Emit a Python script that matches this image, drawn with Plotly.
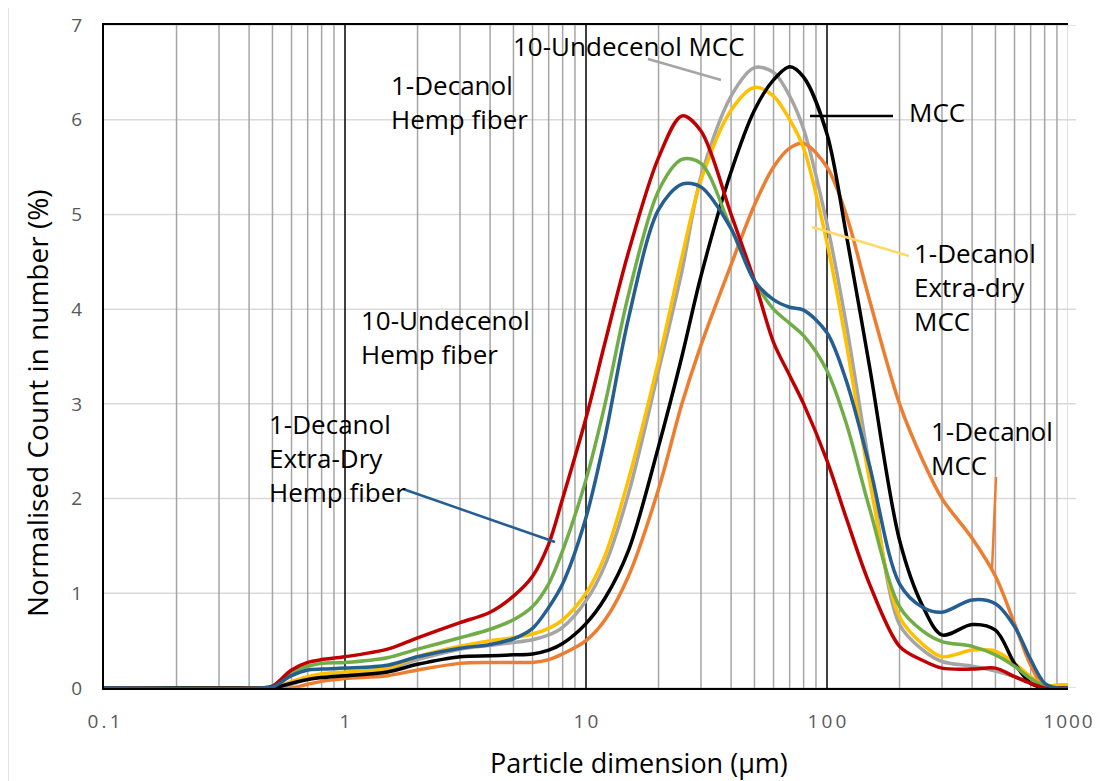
import plotly.graph_objects as go

# ---------------- data ----------------
sizes_um = [0.1, 0.45, 0.5, 0.6, 0.7, 0.8, 1, 1.5, 2, 3, 4, 5, 6, 7, 8,
            10, 12, 15, 20, 25, 30, 40, 50, 60, 70, 80,
            100, 120, 150, 200, 250, 300, 400, 500, 600, 700, 800, 900, 1000]

decanol_hemp = [0, 0, 0.02, 0.19, 0.27, 0.30, 0.33, 0.41, 0.53, 0.69, 0.80, 0.97, 1.18, 1.52, 2.0,
                2.85, 3.65, 4.6, 5.6, 6.04, 5.88, 5.0, 4.3, 3.65, 3.3, 3.0,
                2.4, 1.8, 1.1, 0.44, 0.29, 0.21, 0.20, 0.21, 0.12, 0.05, 0.0, 0, 0]
undecenol_hemp = [0, 0, 0.02, 0.16, 0.23, 0.26, 0.27, 0.32, 0.41, 0.53, 0.62, 0.72, 0.86, 1.1, 1.45,
                  2.2, 3.0, 4.15, 5.25, 5.58, 5.54, 4.85, 4.3, 4.0, 3.85, 3.72,
                  3.35, 2.8, 1.9, 0.86, 0.6, 0.49, 0.44, 0.35, 0.23, 0.1, 0.02, 0, 0]
decanol_xdry_hemp = [0, 0, 0.01, 0.13, 0.19, 0.20, 0.21, 0.24, 0.33, 0.42, 0.46, 0.52, 0.63, 0.85, 1.1,
                     1.8, 2.65, 3.9, 5.05, 5.32, 5.29, 4.85, 4.3, 4.1, 4.02, 3.99,
                     3.75, 3.25, 2.35, 1.1, 0.85, 0.8, 0.93, 0.89, 0.65, 0.3, 0.05, 0, 0]
decanol_xdry_mcc = [0, 0, 0, 0.07, 0.12, 0.15, 0.17, 0.21, 0.33, 0.44, 0.50, 0.53, 0.57, 0.63, 0.72,
                    1.0, 1.4, 2.2, 3.45, 4.55, 5.36, 6.1, 6.34, 6.25, 6.0, 5.7,
                    4.7, 3.65, 2.2, 0.75, 0.46, 0.33, 0.40, 0.39, 0.26, 0.12, 0.02, 0.03, 0.03]
undecenol_mcc = [0, 0, 0, 0.04, 0.10, 0.13, 0.15, 0.20, 0.30, 0.41, 0.45, 0.48, 0.51, 0.56, 0.64,
                 0.92, 1.3, 2.05, 3.35, 4.4, 5.4, 6.25, 6.55, 6.5, 6.25, 5.9,
                 4.9, 3.85, 2.35, 0.67, 0.4, 0.28, 0.23, 0.18, 0.12, 0.05, 0.02, 0.03, 0.03]
mcc = [0, 0, 0, 0.05, 0.09, 0.11, 0.13, 0.17, 0.25, 0.33, 0.34, 0.35, 0.36, 0.40, 0.47,
       0.68, 0.95, 1.45, 2.55, 3.5, 4.35, 5.45, 6.1, 6.42, 6.56, 6.45,
       5.85, 4.8, 3.4, 1.56, 0.86, 0.56, 0.67, 0.61, 0.26, 0.05, 0, 0, 0]
decanol_mcc = [0, 0, 0, 0, 0.04, 0.07, 0.10, 0.13, 0.19, 0.26, 0.27, 0.27, 0.27, 0.30, 0.36,
               0.5, 0.72, 1.18, 2.1, 3.0, 3.62, 4.47, 5.1, 5.5, 5.7, 5.75,
               5.5, 5.0, 4.1, 3.0, 2.4, 2.0, 1.58, 1.18, 0.68, 0.24, 0, 0, 0]

series_names = ["10-Undecenol MCC", "1-Decanol MCC", "1-Decanol Extra-dry MCC", "MCC",
                "10-Undecenol Hemp fiber", "1-Decanol Hemp fiber", "1-Decanol Extra-Dry Hemp fiber"]
series_values = [undecenol_mcc, decanol_mcc, decanol_xdry_mcc, mcc,
                 undecenol_hemp, decanol_hemp, decanol_xdry_hemp]
series_colors = ["#a5a5a5", "#ed7d31", "#ffc000", "#000000", "#70ad47", "#c00000", "#255e91"]

x_tick_vals = [0.1, 1, 10, 100, 1000]
x_tick_text = ["0\u2009.\u20091", "1", "1\u20090", "1\u20090\u20090", "1\u200a0\u200a0\u200a0"]
y_tick_vals = [0, 1, 2, 3, 4, 5, 6, 7]

FONT = "Open Sans"

# ---------------- geometry (the page body adds an 8px offset) ----------------
OFF = 8
W, H = 1100 - OFF, 781 - OFF
ML, MT = 104 - OFF, 25 - OFF
MR = W - (1068 - OFF)
MB = H - (688 - OFF)
PW, PH = W - ML - MR, H - MT - MB


def px(xs):
    """screen x -> paper x"""
    return (xs - OFF - ML) / PW


def py(ys):
    """screen y -> paper y"""
    return (H - MB - (ys - OFF)) / PH


fig = go.Figure()
for name, vals, col in zip(series_names, series_values, series_colors):
    fig.add_trace(go.Scatter(x=sizes_um, y=vals, mode="lines", name=name,
                             line=dict(color=col, width=3.5, shape="spline", smoothing=0.9)))

shapes = []
# horizontal grid (extends slightly beyond right edge like the original)
for yv in y_tick_vals:
    shapes.append(dict(type="line", xref="paper", yref="y", x0=0, x1=px(1076), y0=yv, y1=yv,
                       line=dict(color="#d9d9d9", width=1.5), layer="below"))
# vertical log grid
for dec in [0.1, 1, 10, 100]:
    for k in range(2, 10):
        xv = dec * k
        shapes.append(dict(type="line", xref="x", yref="paper", x0=xv, x1=xv, y0=0, y1=1,
                           line=dict(color="#a6a6a6", width=1.5), layer="below"))
for xv in [1, 10, 100]:
    shapes.append(dict(type="line", xref="x", yref="paper", x0=xv, x1=xv, y0=0, y1=1,
                       line=dict(color="#000000", width=1.5), layer="below"))
shapes.append(dict(type="line", xref="x", yref="paper", x0=1000, x1=1000, y0=0, y1=1,
                   line=dict(color="#d9d9d9", width=1.5), layer="below"))

# chart area border
shapes.append(dict(type="line", xref="paper", yref="paper", x0=px(8), x1=px(1100), y0=py(6), y1=py(6),
                   line=dict(color="#d9d9d9", width=1.5)))
shapes.append(dict(type="line", xref="paper", yref="paper", x0=px(8), x1=px(8), y0=py(6), y1=py(781),
                   line=dict(color="#d9d9d9", width=1.5)))

# leader lines
leaders = [
    ((403, 489), (555, 542), "#255e91"),
    ((648, 59), (721, 80), "#a5a5a5"),
    ((810, 116), (893, 116), "#000000"),
    ((812, 227), (909, 256), "#ffd966"),
    ((996, 477), (992, 570), "#ed7d31"),
]
for (xa, ya), (xb, yb), col in leaders:
    shapes.append(dict(type="line", xref="paper", yref="paper", x0=px(xa), y0=py(ya), x1=px(xb), y1=py(yb),
                       line=dict(color=col, width=2.5)))

labels = [
    ("1-Decanol<br>Hemp fiber", 389, 102),
    ("10-Undecenol<br>Hemp fiber", 359, 337),
    ("1-Decanol<br>Extra-Dry<br>Hemp fiber", 267, 458),
    ("10-Undecenol MCC", 511, 46),
    ("MCC", 907, 112),
    ("1-Decanol<br>Extra-dry<br>MCC", 912, 287),
    ("1-Decanol<br>MCC", 929, 448),
]
annotations = []
for txt, xl, yc in labels:
    annotations.append(dict(text=txt, xref="paper", yref="paper", x=px(xl), y=py(yc),
                            xanchor="left", yanchor="middle", align="left", showarrow=False,
                            font=dict(family=FONT, size=26, color="#000000")))

annotations.append(dict(text="Particle dimension (\u00b5m)", xref="paper", yref="paper",
                        x=px(639), y=py(762), xanchor="center", yanchor="middle", showarrow=False,
                        font=dict(family=FONT, size=27, color="#000000")))
annotations.append(dict(text="Normalised Count in number (%)", xref="paper", yref="paper",
                        x=px(37), y=py(403), xanchor="center", yanchor="middle", showarrow=False,
                        textangle=-90, font=dict(family=FONT, size=28, color="#000000")))

fig.update_layout(
    width=W, height=H, autosize=False,
    margin=dict(l=ML, r=MR, t=MT, b=MB, autoexpand=False),
    paper_bgcolor="white", plot_bgcolor="white",
    showlegend=False,
    shapes=shapes,
    annotations=annotations,
    font=dict(family=FONT),
    xaxis=dict(type="log", range=[-1, 3], showgrid=False, zeroline=False, automargin=False,
               showline=True, linecolor="#000000", linewidth=2, mirror=True,
               tickvals=x_tick_vals, ticktext=x_tick_text,
               ticks="outside", ticklen=15, tickcolor="rgba(0,0,0,0)",
               tickfont=dict(family=FONT, size=19, color="#595959")),
    yaxis=dict(range=[0, 7], showgrid=False, zeroline=False, automargin=False,
               showline=True, linecolor="#000000", linewidth=2, mirror=False,
               tickvals=y_tick_vals, ticks="outside", ticklen=16, tickcolor="rgba(0,0,0,0)",
               tickfont=dict(family=FONT, size=19, color="#595959")),
)

fig.write_html("out.html")
